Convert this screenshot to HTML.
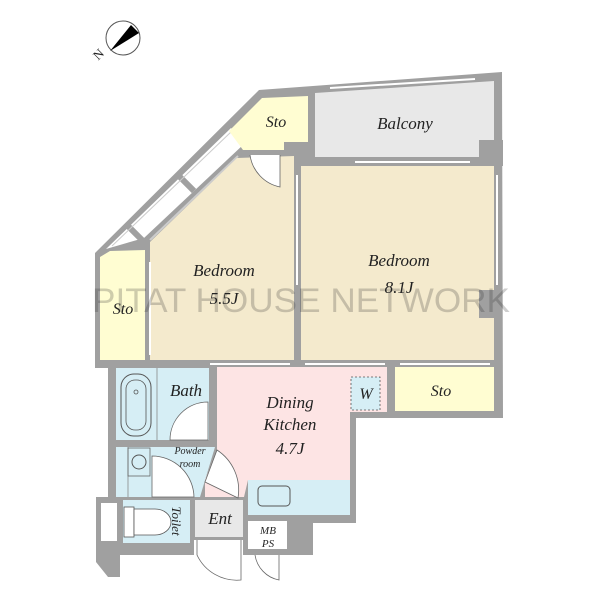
<!DOCTYPE html>
<html><head><meta charset="utf-8"><style>
html,body{margin:0;padding:0;background:#fff}
svg{display:block}
text{font-family:"Liberation Serif",serif;font-style:italic;fill:#222}
</style></head><body>
<svg width="600" height="600" viewBox="0 0 600 600">
<!-- compass -->
<circle cx="123" cy="38" r="17" fill="#fff" stroke="#555" stroke-width="1"/>
<polygon points="131,25 139,33 110,51" fill="#000"/>
<text x="93" y="58" font-size="13" fill="#111" transform="rotate(-45 99 53)" style="font-style:normal">N</text>

<!-- footprint walls -->
<polygon points="259,90 502,72 503,418 356,418 356,523 313,523 313,555 243,555 243,540 194,540 194,555 120,555 120,577 108,577 96,562 96,497 108,497 108,368 95,368 95,253" fill="#a0a0a0"/>

<!-- diagonal window corridor -->
<polygon points="106,249 231,128 244,144 144,238" fill="#fff"/>
<line x1="113" y1="229" x2="148" y2="216" stroke="#a0a0a0" stroke-width="0"/>
<line x1="128" y1="226" x2="146" y2="244" stroke="#a0a0a0" stroke-width="6"/>
<line x1="180" y1="177" x2="194" y2="191" stroke="#a0a0a0" stroke-width="6"/>
<line x1="112" y1="246" x2="232" y2="131" stroke="#ccc" stroke-width="1"/>
<line x1="150" y1="240" x2="238" y2="156" stroke="#ccc" stroke-width="2"/>

<!-- balcony -->
<polygon points="315,93 494,81 494,157 315,157" fill="#e8e8e8"/>
<rect x="283" y="142" width="30" height="24" fill="#a0a0a0"/>
<rect x="479" y="140" width="24" height="26" fill="#a0a0a0"/>
<line x1="330" y1="88" x2="475" y2="79" stroke="#fff" stroke-width="2"/>
<!-- top sto -->
<polygon points="229,131 262,98 308,96 308,142 284,142 284,150 243,150" fill="#fffdd2"/>
<!-- bedroom 8.1 -->
<rect x="301" y="166" width="193" height="194" fill="#f4eacd"/>
<rect x="283" y="290" width="18" height="28" fill="#a0a0a0"/>
<rect x="479" y="290" width="18" height="28" fill="#a0a0a0"/>
<!-- bedroom 5.5 -->
<polygon points="150,242 237,158 294,156 294,360 150,360" fill="#f4eacd"/>
<!-- left sto -->
<polygon points="100,257 110,251 145,250 145,360 100,360" fill="#fffdd2"/>
<!-- windows lines -->
<line x1="150" y1="262" x2="150" y2="355" stroke="#fff" stroke-width="2"/>
<line x1="297" y1="175" x2="297" y2="285" stroke="#fff" stroke-width="2"/>
<line x1="497" y1="175" x2="497" y2="285" stroke="#fff" stroke-width="2"/>
<line x1="210" y1="364" x2="290" y2="364" stroke="#fff" stroke-width="2"/>
<line x1="305" y1="364" x2="385" y2="364" stroke="#fff" stroke-width="2"/>
<line x1="400" y1="364" x2="490" y2="364" stroke="#fff" stroke-width="2"/>
<line x1="355" y1="162" x2="470" y2="162" stroke="#fff" stroke-width="2"/>
<!-- door swing bedroom -->
<path d="M250,155 A38,38 0 0 0 280,187 L280,155" fill="#fff" stroke="#666" stroke-width="0.8"/>

<!-- bath -->
<rect x="116" y="368" width="93" height="72" fill="#d6eef5"/>
<line x1="157" y1="368" x2="157" y2="440" stroke="#888" stroke-width="0.8"/>
<rect x="121" y="374" width="30" height="62" rx="13" fill="#d6eef5" stroke="#555" stroke-width="1"/>
<rect x="126" y="380" width="20" height="50" rx="9" fill="none" stroke="#555" stroke-width="0.8"/>
<circle cx="136" cy="392" r="2" fill="none" stroke="#555" stroke-width="0.8"/>
<path d="M170,440 A38,38 0 0 1 208,402 L208,440 Z" fill="#fff" stroke="#666" stroke-width="0.8"/>
<!-- powder -->
<polygon points="116,447 215,447 200,497 116,497" fill="#d6eef5"/>
<line x1="128" y1="447" x2="128" y2="497" stroke="#888" stroke-width="0.8"/>
<rect x="128" y="448" width="22" height="28" fill="none" stroke="#666" stroke-width="0.8"/>
<circle cx="139" cy="462" r="7" fill="none" stroke="#555" stroke-width="1"/>
<path d="M152,497 L152,456 A42,42 0 0 1 194,497 Z" fill="#fff" stroke="#666" stroke-width="0.8"/>
<!-- toilet -->
<rect x="123" y="500" width="67" height="43" fill="#d6eef5"/>
<rect x="101" y="503" width="16" height="38" fill="#fff"/>
<rect x="124" y="507" width="10" height="30" fill="#fff" stroke="#555" stroke-width="0.8"/>
<path d="M134,509 L155,509 A16,13 0 0 1 155,535 L134,535 Z" fill="#fff" stroke="#555" stroke-width="0.8"/>

<!-- dining kitchen -->
<polygon points="217,367 387,367 387,412 350,412 350,480 248,480 244,497 205,497 205,480 217,450" fill="#fde4e4"/>
<path d="M217,450 A48,48 0 0 1 238,498 L205,482 Z" fill="#fff" stroke="#666" stroke-width="0.8"/>
<rect x="248" y="480" width="102" height="35" fill="#d6eef5"/>
<rect x="258" y="486" width="32" height="20" rx="4" fill="none" stroke="#555" stroke-width="1"/>
<rect x="351" y="377" width="29" height="33" fill="#d6eef5" stroke="#555" stroke-width="0.8" stroke-dasharray="2,2"/>
<!-- sto right -->
<rect x="395" y="367" width="99" height="44" fill="#fffdd2"/>
<!-- ent -->
<rect x="195" y="500" width="48" height="37" fill="#e8e8e8"/>
<path d="M197,540 L197,555 A44,44 0 0 0 241,580 L241,540" fill="#fff" stroke="#666" stroke-width="0.8"/>
<!-- MB PS -->
<rect x="248" y="521" width="39" height="28" fill="#fff"/>
<path d="M255,555 A30,30 0 0 0 279,580 L279,555" fill="#fff" stroke="#666" stroke-width="0.8"/>

<!-- watermark -->
<text x="92" y="312" font-size="34" textLength="418" lengthAdjust="spacingAndGlyphs" style="font-style:normal;font-family:'Liberation Sans',sans-serif" fill="#888" fill-opacity="0.22">PITAT HOUSE NETWORK</text>

<!-- labels -->
<text x="276" y="127" font-size="16" text-anchor="middle">Sto</text>
<text x="405" y="129" font-size="17" text-anchor="middle">Balcony</text>
<text x="224" y="276" font-size="17" text-anchor="middle">Bedroom</text>
<text x="224" y="304" font-size="17" text-anchor="middle">5.5J</text>
<text x="399" y="266" font-size="17" text-anchor="middle">Bedroom</text>
<text x="399" y="293" font-size="17" text-anchor="middle">8.1J</text>
<text x="123" y="314" font-size="16" text-anchor="middle">Sto</text>
<text x="186" y="396" font-size="17" text-anchor="middle">Bath</text>
<text x="290" y="408" font-size="17" text-anchor="middle">Dining</text>
<text x="290" y="430" font-size="17" text-anchor="middle">Kitchen</text>
<text x="290" y="454" font-size="17" text-anchor="middle">4.7J</text>
<text x="366" y="399" font-size="16" text-anchor="middle">W</text>
<text x="441" y="396" font-size="16" text-anchor="middle">Sto</text>
<text x="190" y="454" font-size="10" text-anchor="middle">Powder</text>
<text x="190" y="467" font-size="10" text-anchor="middle">room</text>
<text x="172" y="521" font-size="13" transform="rotate(90 172 521)" text-anchor="middle">Toilet</text>
<text x="220" y="524" font-size="17" text-anchor="middle">Ent</text>
<text x="268" y="534" font-size="11" text-anchor="middle">MB</text>
<text x="268" y="547" font-size="11" text-anchor="middle">PS</text>
</svg>
</body></html>
